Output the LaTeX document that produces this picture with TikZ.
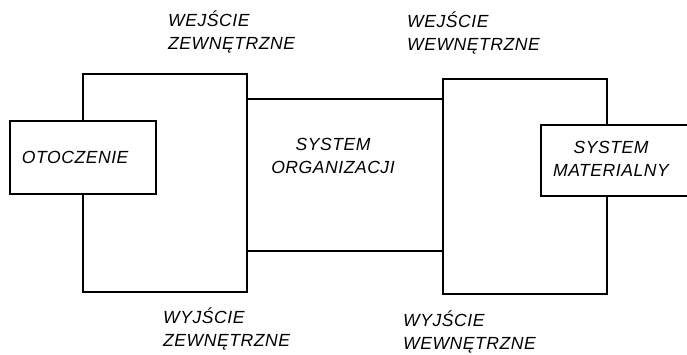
\documentclass[tikz,border=0pt]{standalone}
\usepackage{fontspec}
\setmainfont{Liberation Sans}[LetterSpace=3.0]
\tikzset{
  frame/.style={draw, line width=1.8pt, fill=white, inner sep=0pt},
  lbl/.style={font=\fontsize{15}{20}\selectfont\itshape, inner sep=0pt, align=left}
}
\begin{document}
\begin{tikzpicture}[x=0.03cm, y=-0.03cm]
        \useasboundingbox (0,0) rectangle (687,354);
        \clip (0,0) rectangle (687,354);
        % interface blocks
        \node[frame, minimum width=4.92cm, minimum height=6.54cm] (zew) at (165,183) {};
        \node[frame, minimum width=4.92cm, minimum height=6.45cm] (wew) at (525,186.5) {};
        \node[frame, lbl, minimum height=2.19cm, text width=3.66cm, inner xsep=0.36cm] (oto) at (83,157.5) {OTOCZENIE};
        \node[frame, minimum width=5.07cm, minimum height=2.13cm] (mat) at (625.5,160.5) {};
        % organization system
        \coordinate (orgtop) at (0,99);
        \coordinate (orgbot) at (0,251);
        \draw[line width=1.8pt] (zew.east |- orgtop) -- (wew.west |- orgtop);
        \draw[line width=1.8pt] (zew.east |- orgbot) -- (wew.west |- orgbot);
        \node[lbl, align=center] (org) at (333,156) {SYSTEM\\ORGANIZACJI};
        \node[lbl, align=center] (matlbl) at (611,159) {SYSTEM\\MATERIALNY};
        % inputs and outputs
        \node[lbl, anchor=west] (wz) at (168,32) {WEJŚCIE\\ZEWNĘTRZNE};
        \node[lbl, anchor=west] (ww) at (407,33) {WEJŚCIE\\WEWNĘTRZNE};
        \node[lbl, anchor=west] (yz) at (163,329) {WYJŚCIE\\ZEWNĘTRZNE};
        \node[lbl, anchor=west] (yw) at (403,332) {WYJŚCIE\\WEWNĘTRZNE};
\end{tikzpicture}
\end{document}
